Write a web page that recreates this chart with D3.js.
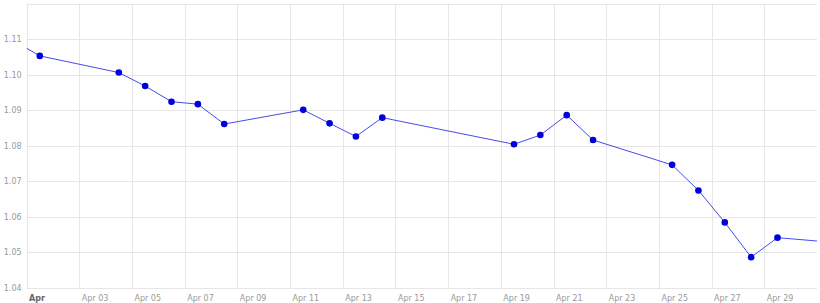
<!DOCTYPE html>
<html>
<head>
<meta charset="utf-8">
<script src="https://cdn.jsdelivr.net/npm/d3@7"></script>
<style>
  html, body { margin: 0; padding: 0; background: #fff; }
  svg { display: block; font-family: "DejaVu Sans", Verdana, sans-serif; }
</style>
</head>
<body>
<div id="chart"></div>
<script>
// daily closes, sampled at noon; points outside April only feed the clipped line ends
const dates = [
  "2015-03-31", "2015-04-01", "2015-04-04", "2015-04-05", "2015-04-06",
  "2015-04-07", "2015-04-08", "2015-04-11", "2015-04-12", "2015-04-13",
  "2015-04-14", "2015-04-19", "2015-04-20", "2015-04-21", "2015-04-22",
  "2015-04-25", "2015-04-26", "2015-04-27", "2015-04-28", "2015-04-29",
  "2015-05-02"
];
const values = [
  1.1096, 1.1053, 1.1006, 1.0968, 1.0924,
  1.0917, 1.0861, 1.0901, 1.0863, 1.0826,
  1.0879, 1.0804, 1.0830, 1.0886, 1.0816,
  1.0746, 1.0674, 1.0584, 1.0486, 1.0541,
  1.0522
];
const yTicks = [1.04, 1.05, 1.06, 1.07, 1.08, 1.09, 1.10, 1.11];

const width = 820, height = 303;
const margin = { top: 3.7, right: 3, bottom: 15.3, left: 26.6 };

const parse = d3.timeParse("%Y-%m-%d");
const data = dates.map((d, i) => {
  const t = parse(d);
  t.setHours(12);
  return { date: t, value: values[i] };
});

const svg = d3.select("#chart").append("svg")
  .attr("width", width)
  .attr("height", height);

const x = d3.scaleTime()
  .domain([new Date(2015, 3, 1), new Date(2015, 4, 1)])
  .range([margin.left, width - margin.right]);

const y = d3.scaleLinear()
  .domain([1.04, 1.12])
  .range([height - margin.bottom, margin.top]);

const xTicks = d3.timeDay.range(new Date(2015, 3, 1), new Date(2015, 4, 1), 2);

// grid
const grid = svg.append("g").attr("stroke", "#e6e6e6").attr("stroke-width", 1);
grid.selectAll("line.h")
  .data(y.ticks(8))
  .join("line")
  .attr("class", "h")
  .attr("x1", margin.left)
  .attr("x2", width - margin.right)
  .attr("y1", d => Math.round(y(d)) + 0.5)
  .attr("y2", d => Math.round(y(d)) + 0.5);
grid.selectAll("line.v")
  .data(xTicks)
  .join("line")
  .attr("class", "v")
  .attr("x1", d => Math.round(x(d)) + 0.5)
  .attr("x2", d => Math.round(x(d)) + 0.5)
  .attr("y1", margin.top)
  .attr("y2", height - margin.bottom);

// y labels
svg.append("g")
  .selectAll("text")
  .data(yTicks)
  .join("text")
  .attr("x", margin.left - 5)
  .attr("y", d => y(d))
  .attr("dy", "0.35em")
  .attr("text-anchor", "end")
  .attr("fill", "#999")
  .style("font-size", "8px")
  .text(d => d3.format(".2f")(d));

// x labels
svg.append("g")
  .selectAll("text")
  .data(xTicks)
  .join("text")
  .attr("x", d => x(d) + 2.5)
  .attr("y", height - 2)
  .attr("fill", (d, i) => i === 0 ? "#666" : "#999")
  .style("font-size", "8px")
  .style("font-weight", (d, i) => i === 0 ? "bold" : "normal")
  .text(d => d.getDate() === 1 ? d3.timeFormat("%b")(d) : d3.timeFormat("%b %d")(d));

// clip the series to the plot area
svg.append("clipPath")
  .attr("id", "plot-clip")
  .append("rect")
  .attr("x", margin.left)
  .attr("y", margin.top)
  .attr("width", width - margin.right - margin.left)
  .attr("height", height - margin.bottom - margin.top);

const line = d3.line()
  .x(d => x(d.date))
  .y(d => y(d.value));

const series = svg.append("g").attr("clip-path", "url(#plot-clip)");

series.append("path")
  .datum(data)
  .attr("fill", "none")
  .attr("stroke", "#4a4ae8")
  .attr("stroke-width", 1)
  .attr("d", line);

series.selectAll("circle")
  .data(data)
  .join("circle")
  .attr("cx", d => x(d.date))
  .attr("cy", d => y(d.value))
  .attr("r", 3.3)
  .attr("fill", "#0000dd");
</script>
</body>
</html>
